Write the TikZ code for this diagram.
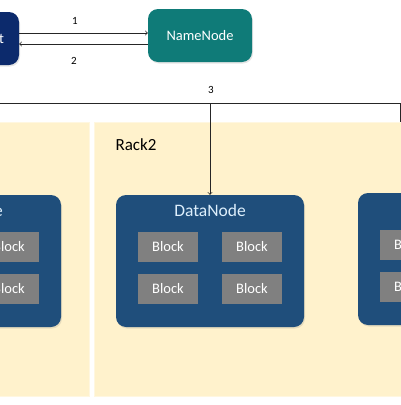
\documentclass[tikz,border=0pt]{standalone}
\usepackage{fontspec}
\setmainfont{Carlito}
\usetikzlibrary{shadows}

\definecolor{clientblue}{HTML}{0C2A6C}
\definecolor{nameteal}{HTML}{0F7B78}
\definecolor{rackcream}{HTML}{FFF2CC}
\definecolor{datablue}{HTML}{1F4E7B}
\definecolor{blockgray}{HTML}{808080}
\definecolor{titleblue}{HTML}{DDEFFC}

\tikzset{
    softshadow/.style={drop shadow={opacity=0.2, shadow xshift=1pt, shadow yshift=-1.5pt}},
    server/.style={rounded corners=10pt, text=white, font=\fontsize{14.5}{16}\selectfont, softshadow},
    datanode/.style={fill=datablue, rounded corners=10pt, minimum width=188pt, minimum height=132pt, softshadow},
    block/.style={fill=blockgray, minimum width=60pt, minimum height=30pt, text=white, font=\fontsize{14.5}{16}\selectfont},
    steplabel/.style={font=\fontsize{11}{12}\selectfont},
    rack/.style={fill=rackcream, draw=rackcream!60!white, line width=1pt}
}

\begin{document}
\begin{tikzpicture}[x=1pt, y=-1pt]
        \useasboundingbox (0,0) rectangle (401,405);
        \fill[white] (0,0) rectangle (401,405);

        % racks
        \draw[rack] (-10,122) rectangle (89,396);
        \draw[rack] (94,122) rectangle (410,396);
        \node[anchor=west, font=\fontsize{17}{19}\selectfont] (rack2) at (112,145) {Rack2};

        % client and namenode
        \node[server, fill=clientblue, minimum width=64pt, minimum height=53pt] (client) at (-13,38.5) {Client};
        \node[server, fill=nameteal, minimum width=104pt, minimum height=53pt] (namenode) at (200,35.5) {NameNode};

        \draw[->, thick, black!85] (client.east |- 0,33) -- (namenode.west |- 0,33);
        \draw[->, thick, black!85] (namenode.west |- 0,44) -- (client.east |- 0,44);
        \node[steplabel] (l1) at (75,21) {1};
        \node[steplabel] (l2) at (74,61) {2};

        % datanodes with blocks
        \foreach \n/\x/\y in {dn1/-33/261, dn2/210/261, dn3/452/259}
        {
            \node[datanode] (\n) at (\x,\y) {};
            \node[text=titleblue, font=\fontsize{17.5}{19}\selectfont] (\n-title) at (\x,\y-51) {DataNode};
            \foreach \i/\dx/\dy in {1/-42/-14, 2/42/-14, 3/-42/28, 4/42/28}{
                \node[block] (\n-b\i) at (\x+\dx,\y+\dy) {Block};
            }
        }

        % connection to racks
        \coordinate (bus) at (210,103);
        \draw[thick, black!85] (-5,103) -- (400,103) -- (400,122);
        \draw[->, thick, black!85] (bus) -- (dn2.north);
        \node[steplabel] (l3) at (211,90) {3};
    \end{tikzpicture}
\end{document}
